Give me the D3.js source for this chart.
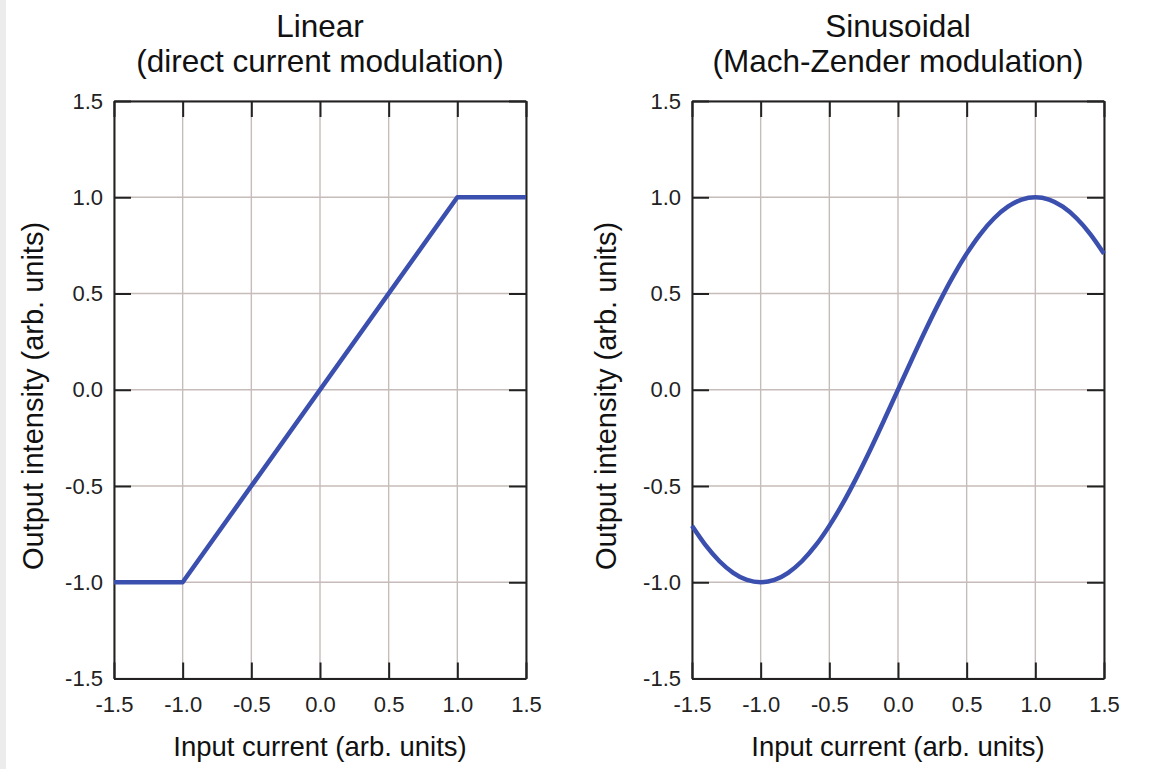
<!DOCTYPE html>
<html><head><meta charset="utf-8">
<script src="https://cdn.jsdelivr.net/npm/d3@7"></script>
<style>body{margin:0;background:#fff;}svg{display:block;font-family:"Liberation Sans",Arial,sans-serif;}</style>
</head><body><svg id="c" width="1167" height="769"></svg>
<script>
const tickValues = [-1.5, -1.0, -0.5, 0.0, 0.5, 1.0, 1.5];
const titles = [["Linear", "(direct current modulation)"], ["Sinusoidal", "(Mach-Zender modulation)"]];
const xLabel = "Input current (arb. units)";
const yLabel = "Output intensity (arb. units)";
const linearX = [-1.5, -1.0, 1.0, 1.5];
const linearY = [-1.0, -1.0, 1.0, 1.0];
const sineX = [-1.5,-1.4,-1.3,-1.2,-1.1,-1.0,-0.9,-0.8,-0.7,-0.6,-0.5,-0.4,-0.3,-0.2,-0.1,0.0,0.1,0.2,0.3,0.4,0.5,0.6,0.7,0.8,0.9,1.0,1.1,1.2,1.3,1.4,1.5];
const sineY = [-0.707,-0.809,-0.891,-0.951,-0.988,-1.0,-0.988,-0.951,-0.891,-0.809,-0.707,-0.588,-0.454,-0.309,-0.156,0.0,0.156,0.309,0.454,0.588,0.707,0.809,0.891,0.951,0.988,1.0,0.988,0.951,0.891,0.809,0.707];

const svg = d3.select("#c");
svg.append("rect").attr("x",0).attr("y",0).attr("width",6).attr("height",769).attr("fill","#ececec");

const panels = [
  {left:114, right:526, xs:linearX, ys:linearY, curve:d3.curveLinear, title:titles[0], yLabOff:71},
  {left:692, right:1104, xs:sineX, ys:sineY, curve:d3.curveMonotoneX, title:titles[1], yLabOff:76}
];
const plotTop = 101, plotBottom = 678.5;
const fmt = d => d.toFixed(1);

panels.forEach(p => {
  const x = d3.scaleLinear().domain([-1.5,1.5]).range([p.left,p.right]);
  const y = d3.scaleLinear().domain([-1.5,1.5]).range([plotBottom,plotTop]);
  const g = svg.append("g");
  // grid
  g.append("g").selectAll("line").data(tickValues).join("line")
    .attr("x1",d=>x(d)).attr("x2",d=>x(d)).attr("y1",plotTop).attr("y2",plotBottom)
    .attr("stroke","#c6bcb9").attr("stroke-width",1.4);
  g.append("g").selectAll("line").data(tickValues).join("line")
    .attr("y1",d=>y(d)).attr("y2",d=>y(d)).attr("x1",p.left).attr("x2",p.right)
    .attr("stroke","#c6bcb9").attr("stroke-width",1.4);
  // axes with inward ticks
  const axB = g.append("g").attr("transform",`translate(0,${plotBottom})`)
    .call(d3.axisBottom(x).tickValues(tickValues).tickFormat(fmt).tickSizeInner(-16).tickSizeOuter(0).tickPadding(18));
  const axT = g.append("g").attr("transform",`translate(0,${plotTop})`)
    .call(d3.axisTop(x).tickValues(tickValues).tickFormat("").tickSizeInner(-16).tickSizeOuter(0));
  const axL = g.append("g").attr("transform",`translate(${p.left},0)`)
    .call(d3.axisLeft(y).tickValues(tickValues).tickFormat(fmt).tickSizeInner(-17).tickSizeOuter(0).tickPadding(11));
  const axR = g.append("g").attr("transform",`translate(${p.right},0)`)
    .call(d3.axisRight(y).tickValues(tickValues).tickFormat("").tickSizeInner(-17).tickSizeOuter(0));
  [axB,axT,axL,axR].forEach(a=>{
    a.attr("font-size",null).attr("font-family",null);
    a.select(".domain").attr("stroke","#222").attr("stroke-width",2);
    a.selectAll(".tick line").attr("stroke","#222").attr("stroke-width",2);
    a.selectAll("text").style("font-size","22px").attr("fill","#222").style("font-family","Liberation Sans, Arial, sans-serif");
  });
  axB.selectAll(".tick text").attr("dy","0.71em");
  // line
  const pts = p.xs.map((v,i)=>[v,p.ys[i]]);
  g.append("path").datum(pts)
    .attr("d", d3.line().x(d=>x(d[0])).y(d=>y(d[1])).curve(p.curve))
    .attr("fill","none").attr("stroke","#3b4fae").attr("stroke-width",4.5).attr("stroke-linejoin","round");
  // titles
  const cx = (p.left+p.right)/2;
  g.append("text").attr("x",cx).attr("y",37).attr("text-anchor","middle").style("font-size","31.5px").attr("fill","#111").text(p.title[0]);
  g.append("text").attr("x",cx).attr("y",72).attr("text-anchor","middle").style("font-size","31.5px").attr("fill","#111").text(p.title[1]);
  // axis labels
  g.append("text").attr("x",cx).attr("y",756).attr("text-anchor","middle").style("font-size","27.5px").attr("fill","#111").text(xLabel);
  g.append("text").attr("transform",`translate(${p.left-p.yLabOff},396) rotate(-90)`)
    .attr("text-anchor","middle").style("font-size","29px").attr("fill","#111").text(yLabel);
});
</script></body></html>
